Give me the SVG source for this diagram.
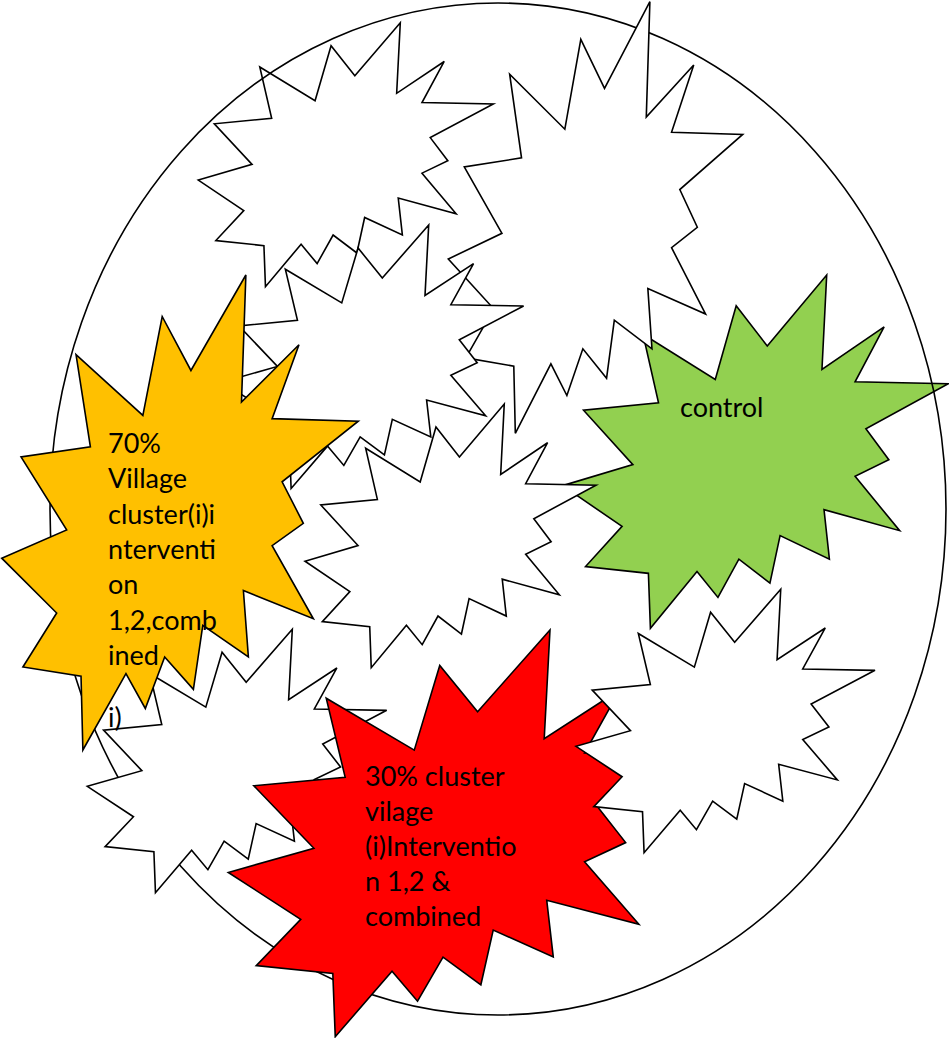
<svg xmlns="http://www.w3.org/2000/svg" xmlns:xlink="http://www.w3.org/1999/xlink" width="949" height="1038" viewBox="0 0 949 1038">
<style>
.seal{stroke:#000;stroke-width:1.6;stroke-linejoin:miter}
.w{fill:#fff}
.o{fill:#FFC000}
.g{fill:#92D050}
.r{fill:#FF0000}
.t{font-family:Lato,"Open Sans",sans-serif;font-size:27px;fill:#000}
</style>
<defs>
<path id="seal" vector-effect="non-scaling-stroke" d="M11462 4342L14790 0L14525 5777L18007 3172L16380 6532L21600 6645L16985 9402L18270 11290L16380 12310L18877 15632L14640 14350L14942 17370L12180 15935L11612 18842L9872 17370L8700 19712L7527 18125L4917 21600L4805 18240L1285 17825L3330 15370L0 12877L3935 11592L1172 8270L5372 7817L4502 3625L8550 6382L9722 1887Z"/>
</defs>
<rect width="949" height="1038" fill="#fff"/>
<g id="control">
<use href="#seal" class="seal g" transform="translate(562.6,275) scale(0.017856,0.016356)"/>
<text class="t" x="680" y="417">control</text>
</g>
<g id="cluster-a"><use href="#seal" class="seal w" transform="translate(198.3,22.7) scale(0.013657,0.012222)"/></g>
<g id="boundary"><ellipse cx="498" cy="509" rx="448" ry="506" fill="none" stroke="#000" stroke-width="1.6"/></g>
<g id="cluster-b"><use href="#seal" class="seal w" transform="translate(448.3,1.7) scale(0.013630,0.019981)"/></g>
<g id="cluster-h"><use href="#seal" class="seal w" transform="translate(222.6,225) scale(0.013935,0.012199)"/></g>
<g id="cluster-e"><use href="#seal" class="seal w" transform="translate(305,404) scale(0.013472,0.012208)"/></g>
<g id="cluster-g"><use href="#seal" class="seal w" transform="translate(87.3,629.3) scale(0.013861,0.012194)"/></g>
<g id="intervention-70">
<use href="#seal" class="seal o" transform="translate(1.7,275) scale(0.016509,0.021991)"/>
<text class="t" x="108"><tspan x="108" y="453">70%</tspan><tspan x="108" y="488">Village</tspan><tspan x="108" y="523.5">cluster(i)i</tspan><tspan x="108" y="559">nterventi</tspan><tspan x="108" y="594">on</tspan><tspan x="108" y="629.5">1,2,comb</tspan><tspan x="108" y="665">ined</tspan><tspan x="108" y="727">i)</tspan></text>
</g>
<g id="intervention-30">
<use href="#seal" class="seal r" transform="translate(228.3,630) scale(0.021750,0.018829)"/>
<text class="t"><tspan x="365" y="786">30% cluster</tspan><tspan x="365" y="821">vilage</tspan><tspan x="365" y="856">(i)Interventio</tspan><tspan x="365" y="891">n 1,2 &amp;</tspan><tspan x="365" y="926">combined</tspan></text>
</g>
<g id="cluster-f"><use href="#seal" class="seal w" transform="translate(576,589.3) scale(0.013843,0.012194)"/></g>
</svg>
